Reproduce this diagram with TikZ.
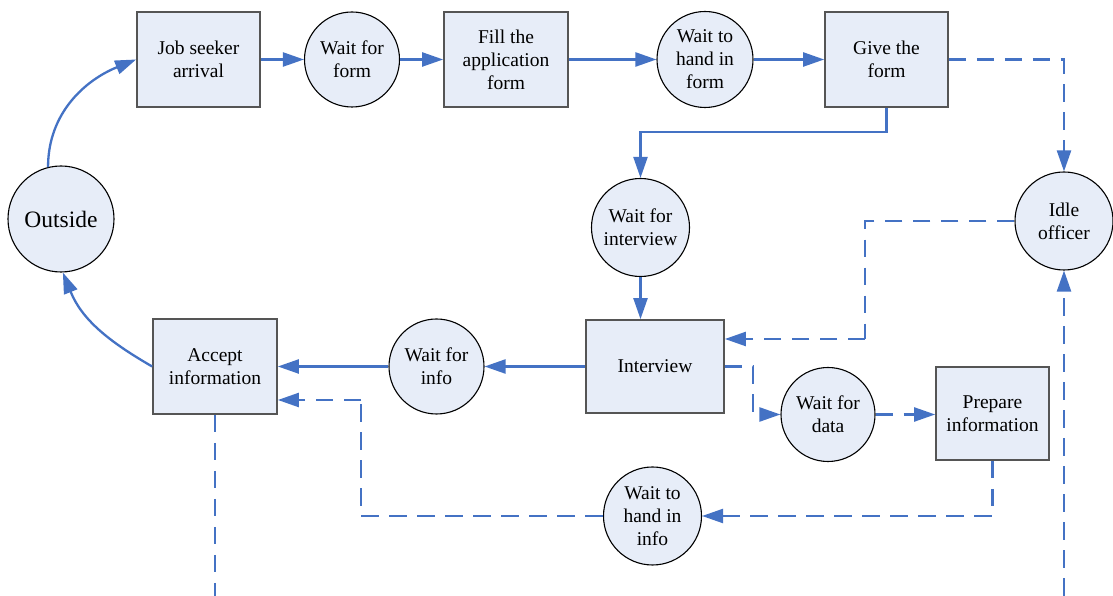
\documentclass[tikz,border=0pt]{standalone}
\usepackage{fontspec}
\setmainfont{Liberation Serif}
\usetikzlibrary{arrows.meta}
\definecolor{flowblue}{RGB}{68,114,196}
\definecolor{nodefill}{RGB}{231,237,248}
\definecolor{boxedge}{RGB}{85,85,85}
\begin{document}
\begin{tikzpicture}[x=1pt,y=1pt,
  txt/.style={font=\fontsize{19.5}{23}\selectfont, align=center, text=black},
  activity/.style={txt, rectangle, draw=boxedge, line width=1.7pt, fill=nodefill, inner sep=0pt},
  queue/.style={txt, circle, draw=black, line width=1.1pt, fill=nodefill, inner sep=0pt},
  flow/.style={draw=flowblue, line width=2.3pt, -{Triangle[length=21pt,width=14pt]}},
  flowplain/.style={draw=flowblue, line width=2.3pt},
  officer/.style={flow, dash pattern=on 17.5pt off 10.5pt},
  officerplain/.style={flowplain, dash pattern=on 17.5pt off 10.5pt}]
\useasboundingbox (0,0) rectangle (1113,596);

% activities (rectangles) and queues (circles)
\node[queue, minimum size=106pt, font=\fontsize{23.5}{27}\selectfont] (outside) at (61,377) {Outside};
\node[activity, minimum width=123pt, minimum height=95pt] (job) at (198.5,536.5) {Job seeker\\arrival};
\node[queue, minimum size=95pt] (waitform) at (352,536.5) {Wait for\\form};
\node[activity, minimum width=124pt, minimum height=95pt] (fill) at (506,536.5) {Fill the\\application\\form};
\node[queue, minimum size=96pt] (waithand) at (705,536.5) {Wait to\\hand in\\form};
\node[activity, minimum width=123pt, minimum height=95pt] (give) at (886.5,536.5) {Give the\\form};
\node[queue, minimum size=98pt] (waitint) at (640.5,368.5) {Wait for\\interview};
\node[queue, minimum size=98pt] (idle) at (1064,375) {Idle\\officer};
\node[activity, minimum width=138pt, minimum height=93pt] (interview) at (655,229.5) {Interview};
\node[queue, minimum size=95pt] (waitinfo) at (436.5,229.5) {Wait for\\info};
\node[activity, minimum width=124pt, minimum height=95pt] (accept) at (215,229.5) {Accept\\information};
\node[queue, minimum size=94pt] (waitdata) at (828,181.5) {Wait for\\data};
\node[activity, minimum width=113pt, minimum height=93pt] (prepare) at (992.5,182.5) {Prepare\\information};
\node[queue, minimum size=98pt] (waithandinfo) at (652.5,80) {Wait to\\hand in\\info};

% bend points and free ends of the officer paths
\coordinate (bendC) at (865,257);
\coordinate (bendD) at (361,196);
\coordinate (acceptout) at (215,0);
\coordinate (idlein) at (1064,0);

% job seeker flow
\draw[flow] (outside.104) to[out=90,in=202] (job.west);
\draw[flow] (job) -- (waitform);
\draw[flow] (waitform) -- (fill);
\draw[flow] (fill) -- (waithand);
\draw[flow] (waithand) -- (give);
\draw[flow] (give.south) -- ++(0,-24) -| (waitint.north);
\draw[flow] (waitint.south) -- (waitint.south |- interview.north);
\draw[flow] (interview) -- (waitinfo);
\draw[flow] (waitinfo) -- (accept);
\draw[flow] (accept.west) to[out=150,in=-68] (outside.-88);

% officer flow
\draw[officer] (give.east) -| (idle.north);
\draw[officerplain] (idle.west) -| (bendC);
\draw[officer] (bendC) -- (bendC -| interview.east);
\draw[officer] (interview.east) -- ++(28,0) |- (waitdata.west);
\draw[officer] (waitdata.east) -- (waitdata.east -| prepare.west);
\draw[officer] (prepare.south) |- (waithandinfo.east);
\draw[officerplain] (waithandinfo.west) -| (bendD);
\draw[officer] (bendD) -- (bendD -| accept.east);
\draw[officerplain] (accept.south) -- (acceptout);
\draw[officer] (idlein) -- (idle.south);
\end{tikzpicture}
\end{document}
